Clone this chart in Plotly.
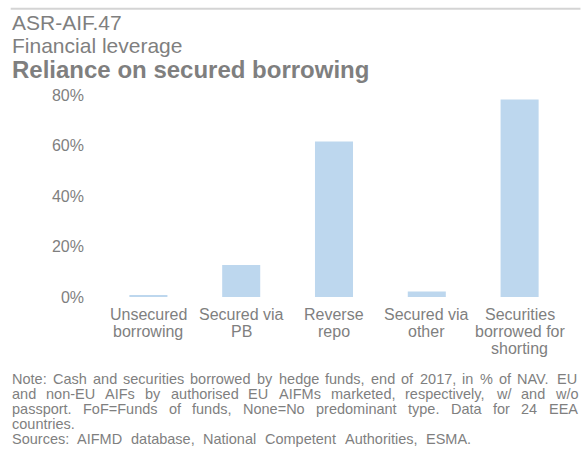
import plotly.graph_objects as go

# ---------------- data ----------------
categories = ["Unsecured borrowing", "Secured via PB", "Reverse repo",
              "Secured via other", "Securities borrowed for shorting"]
category_lines = [["Unsecured", "borrowing"], ["Secured via", "PB"], ["Reverse", "repo"],
                  ["Secured via", "other"], ["Securities", "borrowed for", "shorting"]]
values = [0.6, 12.7, 61.6, 2.2, 78.2]
y_ticks = [0, 20, 40, 60, 80]
y_tick_labels = ["0%", "20%", "40%", "60%", "80%"]

title_lines = ["ASR-AIF.47", "Financial leverage", "Reliance on secured borrowing"]
note_lines = [
    "Note: Cash and securities borrowed by hedge funds, end of 2017, in % of NAV. EU",
    "and non-EU AIFs by authorised EU AIFMs marketed, respectively, w/ and w/o",
    "passport. FoF=Funds of funds, None=No predominant type. Data for 24 EEA",
    "countries.",
    "Sources: AIFMD database, National Competent Authorities, ESMA.",
]

# ---------------- layout geometry ----------------
W, H = 581, 457
L, R, T, B = 101.5, 566.5, 95, 297.5
FONT = "Liberation Sans, Arial, sans-serif"
GRAY = "#7f7f7f"
BAR = "#bdd7ee"


def px2x(px):
    return (px - L) / (R - L)


def py2y(py):
    return (B - py) / (B - T)


# Arial / Liberation Sans advance widths (per 1000 em)
AW = {" ": 278, "!": 278, ",": 278, ".": 278, ":": 278, "/": 278, "-": 333, "%": 889, "=": 584}
for d in "0123456789":
    AW[d] = 556
AW.update(dict(A=667, B=667, C=722, D=722, E=667, F=611, G=778, H=722, I=278, J=500, K=667,
               L=556, M=833, N=722, O=778, P=667, Q=778, R=722, S=667, T=611, U=722, V=667,
               W=944, X=667, Y=667, Z=611))
AW.update(dict(a=556, b=556, c=500, d=556, e=556, f=278, g=556, h=556, i=222, j=222, k=500,
               l=222, m=833, n=556, o=556, p=556, q=556, r=333, s=500, t=278, u=556, v=500,
               w=722, x=500, y=500, z=500))


def text_w(s, fs):
    return sum(AW.get(ch, 556) for ch in s) * fs / 1000.0


fig = go.Figure()
fig.add_trace(go.Bar(x=categories, y=values, marker=dict(color=BAR, line=dict(width=0)),
                     hoverinfo="x+y"))

annotations = []

# title block
title_specs = [(title_lines[0], 22.5, 21, False),
               (title_lines[1], 45.2, 21, False),
               (title_lines[2], 69.0, 24, True)]
for txt, cy, fs, bold in title_specs:
    annotations.append(dict(text=f"<b>{txt}</b>" if bold else txt, xref="paper", yref="paper",
                            x=px2x(10), y=py2y(cy), xanchor="left", yanchor="middle",
                            showarrow=False, borderpad=0,
                            font=dict(family=FONT, size=fs, color=GRAY)))

# category labels
label_centers = [314.7, 332.0, 349.3]
for cat, lines in zip(categories, category_lines):
    for ln, cy in zip(lines, label_centers):
        annotations.append(dict(text=ln, xref="x", yref="paper", x=cat, y=py2y(cy),
                                xanchor="center", yanchor="middle", showarrow=False, borderpad=0,
                                font=dict(family=FONT, size=16, color=GRAY)))

# notes, justified like the source
NFS = 14.5
note_centers = [379.6, 394.6, 409.6, 424.6, 440.3]
note_right = [577, 577, 577, None, 470]
for txt, cy, rgt in zip(note_lines, note_centers, note_right):
    words = txt.split(" ")
    if rgt is None or len(words) < 2:
        annotations.append(dict(text=txt, xref="paper", yref="paper", x=px2x(10), y=py2y(cy),
                                xanchor="left", yanchor="middle", showarrow=False, borderpad=0,
                                font=dict(family=FONT, size=NFS, color=GRAY)))
        continue
    widths = [text_w(w, NFS) for w in words]
    gap = (rgt - 10 - sum(widths)) / (len(words) - 1)
    xpos = 10
    for w, wd in zip(words, widths):
        annotations.append(dict(text=w, xref="paper", yref="paper", x=px2x(xpos), y=py2y(cy),
                                xanchor="left", yanchor="middle", showarrow=False, borderpad=0,
                                font=dict(family=FONT, size=NFS, color=GRAY)))
        xpos += wd + gap

fig.update_layout(
    width=W, height=H,
    margin=dict(l=L, r=W - R, t=T, b=H - B, pad=0),
    paper_bgcolor="white", plot_bgcolor="white",
    showlegend=False,
    bargap=0.59,
    font=dict(family=FONT, color=GRAY),
    annotations=annotations,
    shapes=[dict(type="line", xref="paper", yref="paper", x0=px2x(10), x1=px2x(581),
                 y0=py2y(8.6), y1=py2y(8.6), line=dict(color="#d4d4d4", width=2))],
    xaxis=dict(showticklabels=False, showgrid=False, zeroline=False, showline=False,
               ticks="", fixedrange=True),
    yaxis=dict(range=[0, 80], tickmode="array", tickvals=y_ticks, ticktext=y_tick_labels,
               showgrid=False, zeroline=False, showline=False, ticks="", ticklabelstandoff=17,
               tickfont=dict(family=FONT, size=16, color=GRAY), fixedrange=True),
)

# remove the default page margin so the figure sits at the window's corner
fig.write_html("out.html",
               config={"displayModeBar": False},
               post_script="document.body.style.margin='0';document.body.style.overflow='hidden';")
